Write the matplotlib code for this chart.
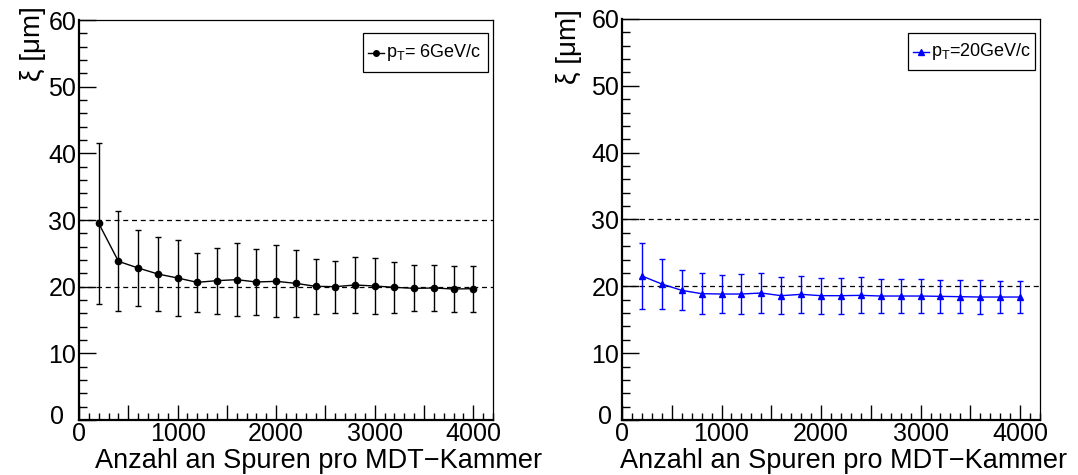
import matplotlib
matplotlib.use("Agg")
import matplotlib.pyplot as plt
from matplotlib.ticker import MultipleLocator, FuncFormatter
from matplotlib.lines import Line2D
from matplotlib.patches import Rectangle
from matplotlib.transforms import blended_transform_factory, ScaledTranslation

plt.rcParams['font.family'] = ['Liberation Sans', 'DejaVu Sans']
plt.rcParams['mathtext.fontset'] = 'custom'
plt.rcParams['mathtext.rm'] = 'Liberation Sans'

# number of tracks per MDT chamber
n_tracks = [200, 400, 600, 800, 1000, 1200, 1400, 1600, 1800, 2000,
            2200, 2400, 2600, 2800, 3000, 3200, 3400, 3600, 3800, 4000]

# pT = 6 GeV/c
xi_6 = [29.5, 23.8, 22.8, 21.9, 21.3, 20.65, 20.9, 21.05, 20.7, 20.8,
        20.5, 20.05, 20.0, 20.25, 20.1, 19.9, 19.75, 19.8, 19.65, 19.7]
err_6 = [12.05, 7.5, 5.7, 5.5, 5.7, 4.45, 4.95, 5.45, 5.0, 5.4,
         5.0, 4.15, 3.9, 4.25, 4.15, 3.8, 3.45, 3.5, 3.4, 3.45]

# pT = 20 GeV/c
xi_20 = [21.55, 20.35, 19.4, 18.9, 18.85, 18.85, 19.0, 18.6, 18.8, 18.6,
         18.6, 18.65, 18.55, 18.55, 18.55, 18.5, 18.45, 18.4, 18.4, 18.4]
err_20 = [4.9, 3.75, 3.0, 3.1, 2.9, 3.05, 2.95, 2.8, 2.75, 2.7,
          2.7, 2.7, 2.5, 2.5, 2.5, 2.45, 2.45, 2.5, 2.45, 2.4]

ref_lines = [20, 30]
x_title = "Anzahl an Spuren pro MDT\u2212Kammer"
y_title = "\u03be [\u03bcm]"

W, H = 1078, 475
fig = plt.figure(figsize=(W / 100, H / 100), dpi=100)


def px_axes(x0, x1, ytop, ybot):
    return fig.add_axes([x0 / W, (H - ybot) / H, (x1 - x0) / W, (ybot - ytop) / H])


def style_axes(ax, zero_dx):
    ax.set_xlim(0, 4200)
    ax.set_ylim(0, 60)
    ax.xaxis.set_major_locator(MultipleLocator(500))
    ax.xaxis.set_minor_locator(MultipleLocator(100))
    ax.xaxis.set_major_formatter(
        FuncFormatter(lambda v, p: f"{int(v)}" if int(v) % 1000 == 0 else ""))
    ax.yaxis.set_major_locator(MultipleLocator(10))
    ax.yaxis.set_minor_locator(MultipleLocator(2))
    # the y "0" is drawn separately, shifted left of the x "0"
    ax.yaxis.set_major_formatter(
        FuncFormatter(lambda v, p: "" if abs(v) < 1e-9 else f"{int(v)}"))
    ax.tick_params(axis='both', which='both', direction='in',
                   top=False, right=False, labelsize=18, width=1.0)
    ax.tick_params(axis='y', which='major', length=12, pad=2)
    ax.tick_params(axis='y', which='minor', length=6)
    ax.tick_params(axis='x', which='major', length=11, pad=1.5)
    ax.tick_params(axis='x', which='minor', length=5)
    ax.spines['left'].set_linewidth(1.6)
    ax.spines['bottom'].set_linewidth(1.6)
    ax.spines['top'].set_linewidth(0.9)
    ax.spines['right'].set_linewidth(0.9)
    for v in ref_lines:
        ax.axhline(v, color='black', lw=0.9, ls=(0, (4, 3)), zorder=1)
    tr = blended_transform_factory(ax.transAxes, ax.transData) + \
        ScaledTranslation(-zero_dx / 100, 3 / 100, fig.dpi_scale_trans)
    ax.text(0, 0, "0", transform=tr, fontsize=18, ha='right', va='center')
    ax.set_ylabel(y_title, fontsize=20, loc='top')


def draw_legend(ax, box, color, marker, label):
    x0, x1, y0, y1 = box
    inv = ax.transAxes.inverted()
    (ax0, ay1), (ax1, ay0) = inv.transform(
        [fig.transFigure.transform((x0 / W, 1 - y0 / H)),
         fig.transFigure.transform((x1 / W, 1 - y1 / H))])
    ax.add_patch(Rectangle((ax0, ay0), ax1 - ax0, ay1 - ay0, transform=ax.transAxes,
                           fill=True, facecolor='white', edgecolor='black', lw=0.9, zorder=5))
    ymid = (ay0 + ay1) / 2
    lx0 = ax0 + 5 / 414
    lx1 = lx0 + 16 / 414
    ax.add_line(Line2D([lx0, lx1], [ymid, ymid], transform=ax.transAxes,
                       color=color, lw=1, zorder=6))
    ax.add_line(Line2D([(lx0 + lx1) / 2], [ymid], transform=ax.transAxes,
                       color=color, marker=marker, ms=4, zorder=6))
    ax.text(lx1 + 2 / 414, ymid, label, transform=ax.transAxes, fontsize=13,
            va='center', ha='left', zorder=6)


# left panel: pT = 6 GeV/c
ax1 = px_axes(79, 493, 20, 420)
style_axes(ax1, 15)
ax1.errorbar(n_tracks, xi_6, yerr=err_6, color='black', ecolor='black',
             marker='o', ms=4.5, lw=1, elinewidth=1, capsize=2.5, capthick=1, zorder=3)
ax1.yaxis.set_label_coords(-0.08, 1.035)
draw_legend(ax1, (363, 488, 33, 72), 'black', 'o', r"$\mathregular{p_{T}}$= 6GeV/c")
fig.text(95 / W, 1 - 468 / H, x_title, fontsize=19.5, ha='left', va='baseline')

# right panel: pT = 20 GeV/c
ax2 = px_axes(622, 1040, 19, 420)
style_axes(ax2, 10)
ax2.errorbar(n_tracks, xi_20, yerr=err_20, color='#0000ff', ecolor='#0000ff',
             marker='^', ms=4.5, lw=1, elinewidth=1, capsize=2.5, capthick=1, zorder=3)
ax2.yaxis.set_label_coords(-0.095, 1.025)
draw_legend(ax2, (908, 1035, 33, 70), '#0000ff', '^', r"$\mathregular{p_{T}}$=20GeV/c")
fig.text(620 / W, 1 - 468 / H, x_title, fontsize=19.5, ha='left', va='baseline')

fig.savefig("out.png", dpi=100)
